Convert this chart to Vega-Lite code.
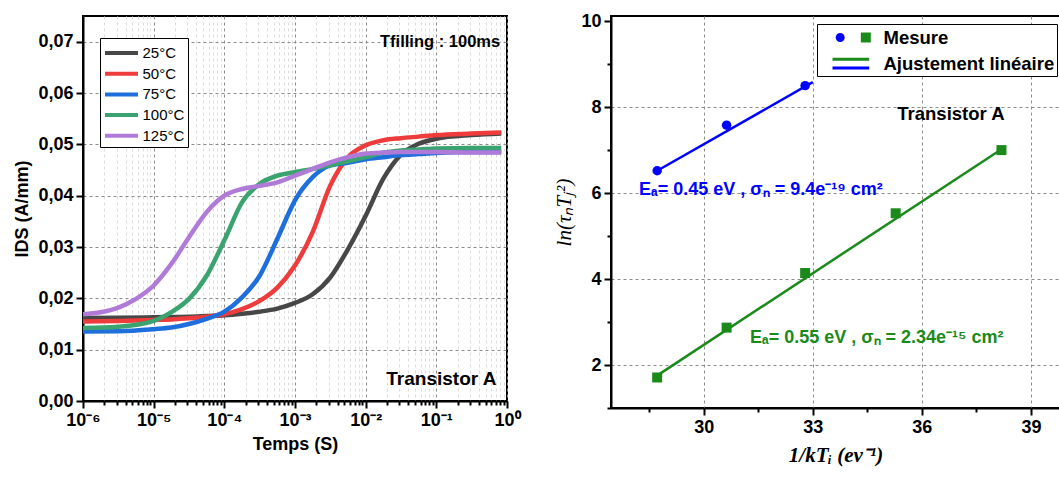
{
  "$schema": "https://vega.github.io/schema/vega-lite/v6.json",
  "padding": {"left": 12, "top": 11, "right": 0, "bottom": 2},
  "background": "white",
  "spacing": 30,
  "config": {
    "font": "Liberation Sans",
    "view": {"stroke": "black", "strokeWidth": 2},
    "axis": {
      "domainColor": "black", "domainWidth": 2,
      "tickColor": "black", "tickWidth": 2, "tickSize": 7,
      "labelFont": "Liberation Sans", "labelFontWeight": "bold", "labelFontSize": 18, "labelColor": "black",
      "labelPadding": 3, "labelOverlap": false, "labelFlush": false, "labelBound": false,
      "titleFont": "Liberation Sans", "titleFontWeight": "bold", "titleFontSize": 18, "titleColor": "black",
      "grid": true, "gridColor": "#8c8c8c", "gridDash": [3, 3], "gridWidth": 1
    }
  },
  "datasets": {
    "curves": [
      {"T":"25°C","t":1e-6,"I":0.01615},{"T":"25°C","t":3.162e-6,"I":0.0162},{"T":"25°C","t":1e-5,"I":0.0163},{"T":"25°C","t":1.778e-5,"I":0.01635},{"T":"25°C","t":3.162e-5,"I":0.0164},{"T":"25°C","t":5.623e-5,"I":0.01655},{"T":"25°C","t":1e-4,"I":0.0167},{"T":"25°C","t":1.778e-4,"I":0.017},{"T":"25°C","t":3.162e-4,"I":0.0174},{"T":"25°C","t":5.623e-4,"I":0.018},{"T":"25°C","t":1e-3,"I":0.0191},{"T":"25°C","t":1.778e-3,"I":0.0208},{"T":"25°C","t":3.162e-3,"I":0.0241},{"T":"25°C","t":5.623e-3,"I":0.0296},{"T":"25°C","t":0.01,"I":0.0361},{"T":"25°C","t":0.01778,"I":0.0433},{"T":"25°C","t":0.03162,"I":0.048},{"T":"25°C","t":0.05623,"I":0.0501},{"T":"25°C","t":0.1,"I":0.0511},{"T":"25°C","t":0.3162,"I":0.0518},{"T":"25°C","t":0.83,"I":0.0521},
      {"T":"50°C","t":1e-6,"I":0.0155},{"T":"50°C","t":3.162e-6,"I":0.0156},{"T":"50°C","t":1e-5,"I":0.0158},{"T":"50°C","t":1.778e-5,"I":0.0159},{"T":"50°C","t":3.162e-5,"I":0.0161},{"T":"50°C","t":5.623e-5,"I":0.0164},{"T":"50°C","t":1e-4,"I":0.0169},{"T":"50°C","t":1.778e-4,"I":0.0179},{"T":"50°C","t":3.162e-4,"I":0.0195},{"T":"50°C","t":5.623e-4,"I":0.0221},{"T":"50°C","t":1e-3,"I":0.0264},{"T":"50°C","t":1.778e-3,"I":0.0329},{"T":"50°C","t":3.162e-3,"I":0.042},{"T":"50°C","t":5.623e-3,"I":0.0475},{"T":"50°C","t":0.01,"I":0.0498},{"T":"50°C","t":0.01778,"I":0.0508},{"T":"50°C","t":0.03162,"I":0.0512},{"T":"50°C","t":0.05623,"I":0.0515},{"T":"50°C","t":0.1,"I":0.0518},{"T":"50°C","t":0.3162,"I":0.0521},{"T":"50°C","t":0.83,"I":0.0523},
      {"T":"75°C","t":1e-6,"I":0.01354},{"T":"75°C","t":3.162e-6,"I":0.0136},{"T":"75°C","t":1e-5,"I":0.014},{"T":"75°C","t":1.778e-5,"I":0.0143},{"T":"75°C","t":3.162e-5,"I":0.015},{"T":"75°C","t":5.623e-5,"I":0.016},{"T":"75°C","t":1e-4,"I":0.0174},{"T":"75°C","t":1.778e-4,"I":0.0202},{"T":"75°C","t":3.162e-4,"I":0.0244},{"T":"75°C","t":5.623e-4,"I":0.0316},{"T":"75°C","t":1e-3,"I":0.0391},{"T":"75°C","t":1.778e-3,"I":0.0436},{"T":"75°C","t":3.162e-3,"I":0.0459},{"T":"75°C","t":5.623e-3,"I":0.0464},{"T":"75°C","t":0.01,"I":0.0471},{"T":"75°C","t":0.01778,"I":0.0475},{"T":"75°C","t":0.03162,"I":0.0479},{"T":"75°C","t":0.05623,"I":0.0481},{"T":"75°C","t":0.1,"I":0.0483},{"T":"75°C","t":0.3162,"I":0.0485},{"T":"75°C","t":0.83,"I":0.0485},
      {"T":"100°C","t":1e-6,"I":0.0142},{"T":"100°C","t":3.162e-6,"I":0.01445},{"T":"100°C","t":1e-5,"I":0.0156},{"T":"100°C","t":1.778e-5,"I":0.0173},{"T":"100°C","t":3.162e-5,"I":0.0199},{"T":"100°C","t":5.623e-5,"I":0.0244},{"T":"100°C","t":1e-4,"I":0.0313},{"T":"100°C","t":1.778e-4,"I":0.0387},{"T":"100°C","t":3.162e-4,"I":0.0423},{"T":"100°C","t":5.623e-4,"I":0.0439},{"T":"100°C","t":1e-3,"I":0.0446},{"T":"100°C","t":1.778e-3,"I":0.0452},{"T":"100°C","t":3.162e-3,"I":0.0459},{"T":"100°C","t":5.623e-3,"I":0.0467},{"T":"100°C","t":0.01,"I":0.0475},{"T":"100°C","t":0.01778,"I":0.0484},{"T":"100°C","t":0.03162,"I":0.0488},{"T":"100°C","t":0.05623,"I":0.049},{"T":"100°C","t":0.1,"I":0.0492},{"T":"100°C","t":0.3162,"I":0.0493},{"T":"100°C","t":0.83,"I":0.0493},
      {"T":"125°C","t":1e-6,"I":0.0169},{"T":"125°C","t":1.778e-6,"I":0.0173},{"T":"125°C","t":3.162e-6,"I":0.0182},{"T":"125°C","t":5.623e-6,"I":0.0199},{"T":"125°C","t":1e-5,"I":0.0225},{"T":"125°C","t":1.778e-5,"I":0.0267},{"T":"125°C","t":3.162e-5,"I":0.0319},{"T":"125°C","t":5.623e-5,"I":0.0368},{"T":"125°C","t":1e-4,"I":0.04},{"T":"125°C","t":1.778e-4,"I":0.0413},{"T":"125°C","t":3.162e-4,"I":0.0419},{"T":"125°C","t":5.623e-4,"I":0.0426},{"T":"125°C","t":1e-3,"I":0.0439},{"T":"125°C","t":1.778e-3,"I":0.0452},{"T":"125°C","t":3.162e-3,"I":0.0465},{"T":"125°C","t":5.623e-3,"I":0.0475},{"T":"125°C","t":0.01,"I":0.0482},{"T":"125°C","t":0.01778,"I":0.0484},{"T":"125°C","t":0.03162,"I":0.0485},{"T":"125°C","t":0.05623,"I":0.0485},{"T":"125°C","t":0.1,"I":0.0485},{"T":"125°C","t":0.3162,"I":0.0484},{"T":"125°C","t":0.83,"I":0.0484}
    ],
    "notesL": [
      {"k":"tf","x":0.8,"y":0.07,"label":"Tfilling : 100ms"},
      {"k":"ta","x":0.71,"y":0.0043,"label":"Transistor A"}
    ],
    "pts": [
      {"s":"A","x":28.72,"y":6.52},{"s":"A","x":30.63,"y":7.58},{"s":"A","x":32.79,"y":8.5},
      {"s":"B","x":28.72,"y":1.71},{"s":"B","x":30.63,"y":2.87},{"s":"B","x":32.79,"y":4.14},{"s":"B","x":35.28,"y":5.53},{"s":"B","x":38.19,"y":7.0}
    ],
    "fit": [
      {"s":"A","x":28.72,"y":6.52},{"s":"A","x":33.0,"y":8.58},
      {"s":"B","x":28.8,"y":1.8},{"s":"B","x":38.19,"y":7.02}
    ],
    "notesR": [
      {"k":"A","x":28.22,"y":6.07,"label":"Eₐ= 0.45 eV , σₙ = 9.4e⁻¹⁹ cm²"},
      {"k":"B","x":31.27,"y":2.64,"label":"Eₐ= 0.55 eV , σₙ = 2.34e⁻¹⁵ cm²"},
      {"k":"T","x":36.8,"y":7.85,"label":"Transistor A"}
    ]
  },
  "hconcat": [
    {
      "width": 424,
      "height": 385,
      "layer": [
        {
          "data": {"name": "curves"},
          "mark": {"type": "line", "strokeWidth": 4.5, "interpolate": "monotone"},
          "encoding": {
            "x": {
              "field": "t", "type": "quantitative",
              "scale": {"type": "log", "domain": [1e-6, 1], "nice": false},
              "axis": {
                "title": "Temps (S)",
                "titlePadding": 6,
                "values": [1e-6,2e-6,3e-6,4e-6,5e-6,6e-6,7e-6,8e-6,9e-6,1e-5,2e-5,3e-5,4e-5,5e-5,6e-5,7e-5,8e-5,9e-5,1e-4,2e-4,3e-4,4e-4,5e-4,6e-4,7e-4,8e-4,9e-4,1e-3,2e-3,3e-3,4e-3,5e-3,6e-3,7e-3,8e-3,9e-3,0.01,0.02,0.03,0.04,0.05,0.06,0.07,0.08,0.09,0.1,0.2,0.3,0.4,0.5,0.6,0.7,0.8,0.9,1],
                "labelExpr": "abs(log(datum.value)/LN10 - round(log(datum.value)/LN10)) < 0.01 ? ['10⁻⁶','10⁻⁵','10⁻⁴','10⁻³','10⁻²','10⁻¹','10⁰'][round(log(datum.value)/LN10)+6] : ''",
                "tickSize": {"condition": {"test": "abs(log(datum.value)/LN10 - round(log(datum.value)/LN10)) < 0.01", "value": 7}, "value": 4},
                "gridColor": {"condition": {"test": "abs(log(datum.value)/LN10 - round(log(datum.value)/LN10)) < 0.01", "value": "#8c8c8c"}, "value": "#dcdcdc"}
              }
            },
            "y": {
              "field": "I", "type": "quantitative",
              "scale": {"domain": [0, 0.075], "nice": false},
              "axis": {
                "title": "IDS (A/mm)",
                "titlePadding": 6,
                "values": [0,0.005,0.01,0.015,0.02,0.025,0.03,0.035,0.04,0.045,0.05,0.055,0.06,0.065,0.07,0.075],
                "labelExpr": "abs(datum.value*100 - round(datum.value*100)) < 0.01 ? replace(format(datum.value, '.2f'), '.', ',') : ''",
                "tickSize": {"condition": {"test": "abs(datum.value*100 - round(datum.value*100)) < 0.01", "value": 7}, "value": 4},
                "gridOpacity": {"condition": {"test": "abs(datum.value*100 - round(datum.value*100)) < 0.01", "value": 1}, "value": 0}
              }
            },
            "color": {
              "field": "T", "type": "nominal",
              "scale": {"domain": ["25°C","50°C","75°C","100°C","125°C"], "range": ["#474747","#ee3b3b","#1e6fdc","#3aa370","#b07ad8"]},
              "legend": {
                "orient": "none", "legendX": 17, "legendY": 22,
                "title": null,
                "strokeColor": "black", "fillColor": "white",
                "padding": 3,
                "symbolType": "M -1.65 0 H 1.65",
                "symbolSize": 400, "symbolStrokeWidth": 4,
                "symbolOffset": 6.5, "labelOffset": 9,
                "labelFont": "Liberation Sans", "labelFontSize": 15, "labelFontWeight": "normal", "labelColor": "black",
                "rowPadding": 0.7
              }
            }
          }
        },
        {
          "data": {"name": "notesL"},
          "transform": [{"filter": "datum.k === 'tf'"}],
          "mark": {"type": "text", "align": "right", "baseline": "middle", "fontWeight": "bold", "fontSize": 16.5, "color": "black"},
          "encoding": {
            "x": {"field": "x", "type": "quantitative"},
            "y": {"field": "y", "type": "quantitative"},
            "text": {"field": "label"}
          }
        },
        {
          "data": {"name": "notesL"},
          "transform": [{"filter": "datum.k === 'ta'"}],
          "mark": {"type": "text", "align": "right", "baseline": "middle", "fontWeight": "bold", "fontSize": 19, "color": "black"},
          "encoding": {
            "x": {"field": "x", "type": "quantitative"},
            "y": {"field": "y", "type": "quantitative"},
            "text": {"field": "label"}
          }
        }
      ]
    },
    {
      "width": 449,
      "height": 392,
      "resolve": {"scale": {"shape": "independent"}, "legend": {"shape": "independent"}},
      "layer": [
        {
          "data": {"name": "fit"},
          "transform": [{"filter": "datum.s === 'A'"}],
          "mark": {"type": "line", "color": "#0000ff", "strokeWidth": 2.5},
          "encoding": {
            "x": {
              "field": "x", "type": "quantitative",
              "scale": {"domain": [27.45, 39.8], "nice": false, "zero": false},
              "axis": {
                "title": "1/kTᵢ (ev⁻¹)",
                "titleFont": "Liberation Serif", "titleFontStyle": "italic", "titleFontSize": 21,
                "titlePadding": 8,
                "values": [28.5, 30, 31.5, 33, 34.5, 36, 37.5, 39],
                "labelExpr": "datum.value % 3 === 0 ? datum.label : ''",
                "tickSize": {"condition": {"test": "datum.value % 3 === 0", "value": 7}, "value": 4},
                "gridOpacity": {"condition": {"test": "datum.value % 3 === 0", "value": 1}, "value": 0}
              }
            },
            "y": {
              "field": "y", "type": "quantitative",
              "scale": {"domain": [1, 10.12], "nice": false, "zero": false},
              "axis": {
                "title": "ln(τₙTⱼ²)",
                "titleFont": "Liberation Serif", "titleFontStyle": "italic", "titleFontWeight": "normal", "titleFontSize": 21,
                "titlePadding": 6,
                "values": [1,2,3,4,5,6,7,8,9,10],
                "labelExpr": "datum.value % 2 === 0 ? datum.label : ''",
                "tickSize": {"condition": {"test": "datum.value % 2 === 0", "value": 7}, "value": 4},
                "gridOpacity": {"condition": {"test": "datum.value % 2 === 0 && datum.value < 10", "value": 1}, "value": 0}
              }
            }
          }
        },
        {
          "data": {"name": "fit"},
          "transform": [{"filter": "datum.s === 'B'"}],
          "mark": {"type": "line", "color": "#1a8a1a", "strokeWidth": 2.5},
          "encoding": {
            "x": {"field": "x", "type": "quantitative"},
            "y": {"field": "y", "type": "quantitative"}
          }
        },
        {
          "data": {"name": "pts"},
          "transform": [{"filter": "datum.s === 'A'"}],
          "mark": {"type": "point", "shape": "circle", "filled": true, "opacity": 1, "color": "#0000ff", "size": 90},
          "encoding": {
            "x": {"field": "x", "type": "quantitative"},
            "y": {"field": "y", "type": "quantitative"}
          }
        },
        {
          "data": {"name": "pts"},
          "transform": [{"filter": "datum.s === 'B'"}],
          "mark": {"type": "point", "shape": "square", "filled": true, "opacity": 1, "color": "#1a8a1a", "size": 100},
          "encoding": {
            "x": {"field": "x", "type": "quantitative"},
            "y": {"field": "y", "type": "quantitative"}
          }
        },
        {
          "data": {"name": "fit"},
          "transform": [{"filter": "datum.s === 'A'"}],
          "mark": {"type": "point", "filled": true, "opacity": 0, "color": "#0000ff"},
          "encoding": {
            "x": {"field": "x", "type": "quantitative"},
            "y": {"field": "y", "type": "quantitative"},
            "shape": {
              "datum": "Mesure",
              "scale": {"domain": ["Mesure", "Ajustement linéaire"], "range": ["M -1.48 0 A 0.45 0.45 0 1 0 -0.58 0 A 0.45 0.45 0 1 0 -1.48 0 Z", "M -1.8 0.3 H 1.87 V 0.6 H -1.8 Z"]},
              "legend": {
                "orient": "none", "legendX": 206, "legendY": 8,
                "title": null,
                "strokeColor": "black", "fillColor": "white",
                "padding": 2.5,
                "symbolSize": 400, "symbolOffset": 20, "labelOffset": 22,
                "symbolFillColor": "#0000ff", "symbolStrokeColor": "transparent", "symbolOpacity": 1,
                "labelFont": "Liberation Sans", "labelFontSize": 18.5, "labelFontWeight": "bold", "labelColor": "black",
                "labelLimit": 400,
                "rowPadding": 5,
                "encode": {
                  "symbols": {
                    "update": {
                      "fill": {"value": "#0000ff"},
                      "stroke": {"value": "transparent"},
                      "size": {"value": 400},
                      "opacity": {"value": 1}
                    }
                  }
                }
              }
            }
          }
        },
        {
          "data": {"name": "fit"},
          "transform": [{"filter": "datum.s === 'B'"}],
          "mark": {"type": "point", "filled": true, "opacity": 0, "color": "#1a8a1a"},
          "encoding": {
            "x": {"field": "x", "type": "quantitative"},
            "y": {"field": "y", "type": "quantitative"},
            "shape": {
              "datum": "Mesure",
              "scale": {"domain": ["Mesure", "Ajustement linéaire"], "range": ["M 1.03 -0.5 H 2.03 V 0.5 H 1.03 Z", "M -1.8 -0.57 H 1.87 V -0.27 H -1.8 Z"]},
              "legend": {
                "orient": "none", "legendX": 206, "legendY": 8,
                "title": null,
                "strokeColor": "transparent",
                "padding": 2.5,
                "symbolSize": 400, "symbolOffset": 20, "labelOffset": 22,
                "symbolFillColor": "#1a8a1a", "symbolStrokeColor": "transparent", "symbolOpacity": 1,
                "labelFont": "Liberation Sans", "labelFontSize": 18.5, "labelFontWeight": "bold", "labelColor": "transparent",
                "labelLimit": 400,
                "rowPadding": 5,
                "encode": {
                  "symbols": {
                    "update": {
                      "fill": {"value": "#1a8a1a"},
                      "stroke": {"value": "transparent"},
                      "size": {"value": 400},
                      "opacity": {"value": 1}
                    }
                  }
                }
              }
            }
          }
        },
        {
          "data": {"name": "notesR"},
          "transform": [{"filter": "datum.k === 'A'"}],
          "mark": {"type": "text", "align": "left", "baseline": "middle", "fontWeight": "bold", "fontSize": 18, "color": "#0000ff"},
          "encoding": {
            "x": {"field": "x", "type": "quantitative"},
            "y": {"field": "y", "type": "quantitative"},
            "text": {"field": "label"}
          }
        },
        {
          "data": {"name": "notesR"},
          "transform": [{"filter": "datum.k === 'B'"}],
          "mark": {"type": "text", "align": "left", "baseline": "middle", "fontWeight": "bold", "fontSize": 18, "color": "#1a8a1a"},
          "encoding": {
            "x": {"field": "x", "type": "quantitative"},
            "y": {"field": "y", "type": "quantitative"},
            "text": {"field": "label"}
          }
        },
        {
          "data": {"name": "notesR"},
          "transform": [{"filter": "datum.k === 'T'"}],
          "mark": {"type": "text", "align": "center", "baseline": "middle", "fontWeight": "bold", "fontSize": 18.5, "color": "black"},
          "encoding": {
            "x": {"field": "x", "type": "quantitative"},
            "y": {"field": "y", "type": "quantitative"},
            "text": {"field": "label"}
          }
        }
      ]
    }
  ]
}
